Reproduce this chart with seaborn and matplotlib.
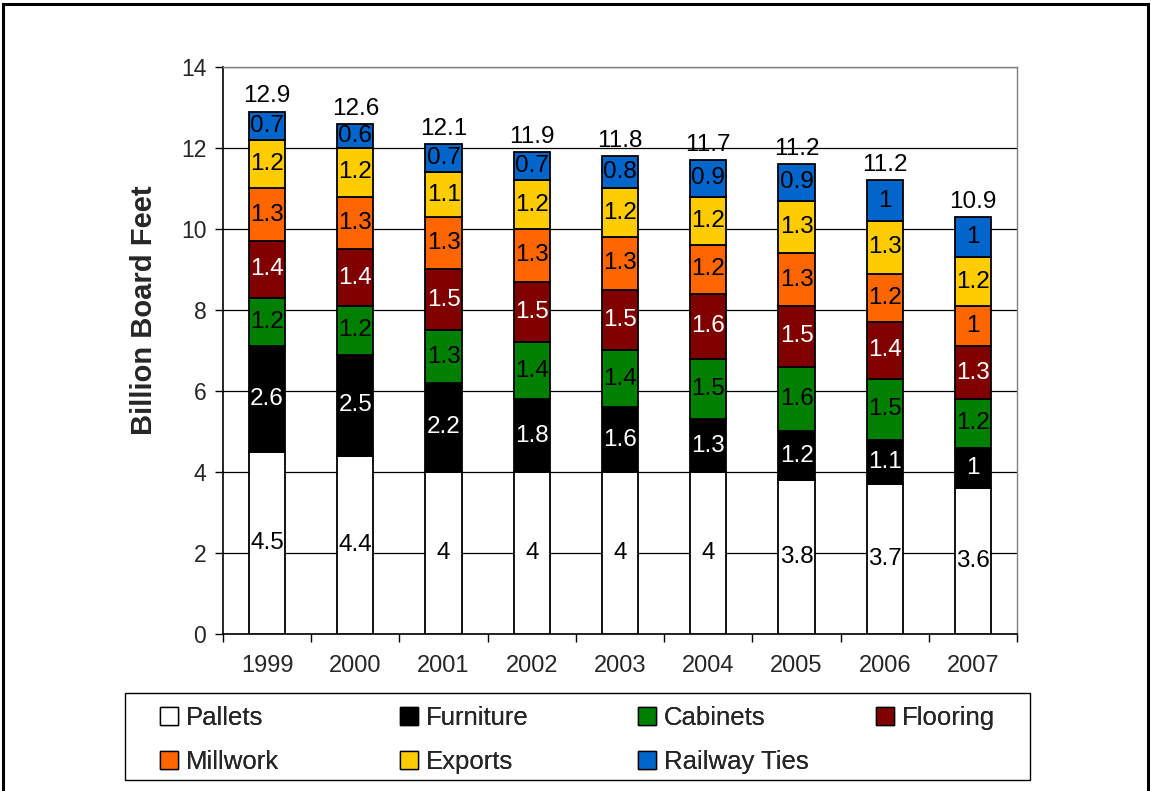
"""
Stacked bar chart: hardwood use by market, 1999-2007 (billion board feet)
"""

import numpy as np
import pandas as pd
import matplotlib
matplotlib.use('Agg')
import matplotlib.pyplot as plt
from matplotlib.patches import Patch, Rectangle
import seaborn as sns

# data
years = ['1999', '2000', '2001', '2002', '2003', '2004', '2005', '2006', '2007']
pallets = [4.5, 4.4, 4, 4, 4, 4, 3.8, 3.7, 3.6]
furniture = [2.6, 2.5, 2.2, 1.8, 1.6, 1.3, 1.2, 1.1, 1]
cabinets = [1.2, 1.2, 1.3, 1.4, 1.4, 1.5, 1.6, 1.5, 1.2]
flooring = [1.4, 1.4, 1.5, 1.5, 1.5, 1.6, 1.5, 1.4, 1.3]
millwork = [1.3, 1.3, 1.3, 1.3, 1.3, 1.2, 1.3, 1.2, 1]
exports = [1.2, 1.2, 1.1, 1.2, 1.2, 1.2, 1.3, 1.3, 1.2]
railway_ties = [0.7, 0.6, 0.7, 0.7, 0.8, 0.9, 0.9, 1, 1]
# totals as printed above the bars
totals = ['12.9', '12.6', '12.1', '11.9', '11.8', '11.7', '11.2', '11.2', '10.9']

series = [
    ('Pallets', pallets, '#FFFFFF', 'black'),
    ('Furniture', furniture, '#000000', 'white'),
    ('Cabinets', cabinets, '#008000', 'black'),
    ('Flooring', flooring, '#800000', 'white'),
    ('Millwork', millwork, '#FF6600', 'black'),
    ('Exports', exports, '#FFCC00', 'black'),
    ('Railway Ties', railway_ties, '#0066CC', 'black'),
]

sns.set_theme(style='white')
plt.rcParams['font.family'] = ['Liberation Sans', 'DejaVu Sans']

W, H = 1151, 791
fig = plt.figure(figsize=(W / 100, H / 100), dpi=100)
ax = fig.add_axes([0.1937, 0.1985, 0.690, 0.7168])

bottom = np.zeros(len(years))
for name, vals, color, txt_color in series:
    df = pd.DataFrame({'year': years, 'value': vals})
    sns.barplot(data=df, x='year', y='value', bottom=bottom, color=color,
                saturation=1, width=0.41, edgecolor='black', linewidth=1.3,
                ax=ax, zorder=3)
    for i, v in enumerate(vals):
        ax.text(i, bottom[i] + v / 2, f'{v:g}', ha='center', va='center',
                fontsize=17.5, color=txt_color, zorder=4)
    bottom = bottom + np.array(vals)

for i, t in enumerate(totals):
    ax.annotate(t, (i, bottom[i]), xytext=(0, 3), textcoords='offset points',
                ha='center', va='bottom', fontsize=17.5, color='black')

ax.set_xlim(-0.5, len(years) - 0.5)
ax.set_ylim(0, 14)
ax.set_yticks(range(0, 15, 2))
ax.yaxis.grid(True, color='black', linewidth=0.9, zorder=0)
ax.set_axisbelow(True)
ax.set_xlabel('')
ax.set_ylabel('Billion Board Feet', fontsize=21, fontweight='bold')
ax.yaxis.set_label_coords(-0.082, 0.571)

# year labels under bars, tick marks between them
ax.set_xticks(range(len(years)))
ax.set_xticklabels(years)
ax.set_xticks(np.arange(-0.5, len(years), 1), minor=True)
ax.tick_params(axis='x', which='major', length=0, labelsize=17, pad=15)
ax.tick_params(axis='x', which='minor', length=6, width=1, color='black',
               direction='out', bottom=True)
ax.tick_params(axis='y', length=6, width=1, color='black', direction='out',
               left=True, labelsize=16.5, pad=6)

for side in ['left', 'bottom']:
    ax.spines[side].set_color('black')
    ax.spines[side].set_linewidth(1.2)
for side in ['top', 'right']:
    ax.spines[side].set_color('#808080')
    ax.spines[side].set_linewidth(1.0)

# legend: 4 evenly spaced columns, filled row by row, inside one box
handles = {n: Patch(facecolor=c, edgecolor='black', linewidth=1.0, label=n)
           for n, _, c, _ in series}
legend_cols = [['Pallets', 'Millwork'], ['Furniture', 'Exports'],
               ['Cabinets', 'Railway Ties'], ['Flooring']]
col_x = [160, 400, 638, 876]
for names, x in zip(legend_cols, col_x):
    leg = fig.legend(handles=[handles[n] for n in names], loc='upper left',
                     bbox_to_anchor=(x / W, 1 - 706 / H), frameon=False,
                     fontsize=18.5, handlelength=0.7, handleheight=0.7,
                     handletextpad=0.3, borderpad=0, borderaxespad=0,
                     labelspacing=0.76)
    fig.add_artist(leg)

fig.patches.append(Rectangle((125 / W, 1 - 780 / H), 905 / W, 87 / H,
                             transform=fig.transFigure, fill=False,
                             edgecolor='black', linewidth=1.0))

# outer chart frame
fig.patches.append(Rectangle((0.0026, -0.01), 0.9948, 1.005, transform=fig.transFigure,
                             fill=False, edgecolor='black', linewidth=2.2))

fig.savefig('out.png', dpi=100)
